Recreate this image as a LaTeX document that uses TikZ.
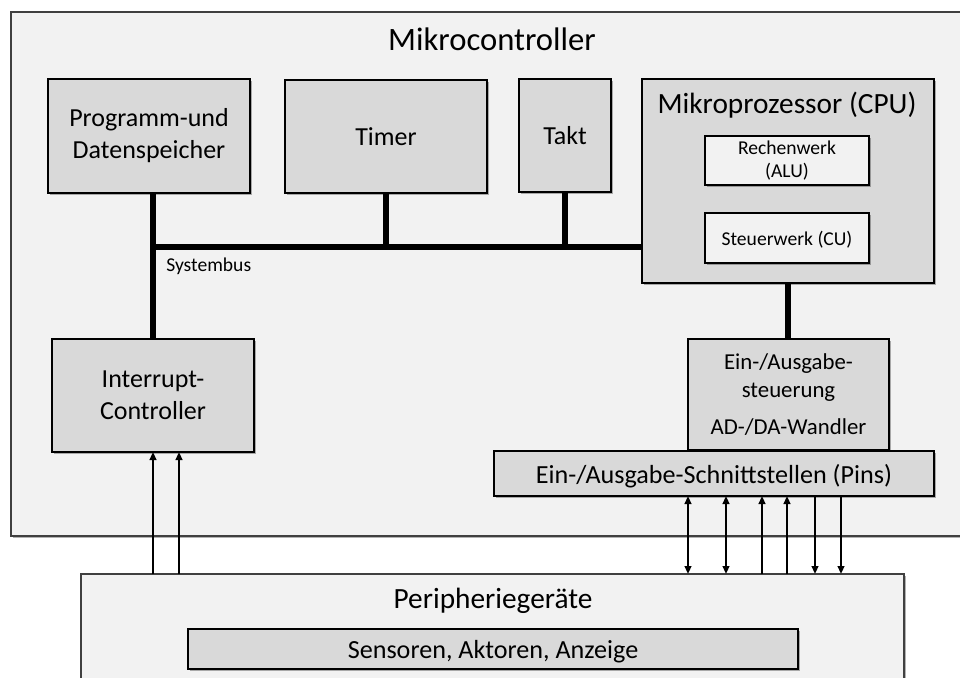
\documentclass[tikz,border=0pt]{standalone}
\usepackage{fontspec}
\setmainfont{Carlito}
\usetikzlibrary{arrows.meta,shadows}
\definecolor{boxgray}{HTML}{D9D9D9}
\definecolor{palegray}{HTML}{F2F2F2}
\begin{document}
\begin{tikzpicture}[x=0.75pt,y=-0.75pt,
  sz/.style 2 args={minimum width=#1*0.75pt, minimum height=#2*0.75pt},
  shade/.style={drop shadow={shadow xshift=1.5pt, shadow yshift=-1.5pt, opacity=0.3, fill=black}},
  blk/.style={draw=black, line width=2.2pt, fill=boxgray, inner sep=0pt, outer sep=0pt, align=center, shade},
  innerblk/.style={blk, fill=palegray},
  frame/.style={draw=black!75, line width=1pt, fill=palegray, inner sep=0pt, outer sep=0pt, shade},
  one/.style={text depth=0pt},
  fbox/.style={font=\fontsize{19.5}{24}\selectfont},
  ftitle/.style={font=\fontsize{24.5}{29}\selectfont},
  fcpu/.style={font=\fontsize{22}{26}\selectfont},
  fio/.style={font=\fontsize{17.1}{21}\selectfont},
  fsmall/.style={font=\fontsize{14.7}{17.5}\selectfont},
  bus/.style={line width=4.8pt},
  tip/.tip={Triangle[length=6pt,width=5pt]},
  arr/.style={line width=1.7pt, -tip},
  darr/.style={line width=1.7pt, tip-tip},
]
\useasboundingbox (0,0) rectangle (960,678);
\clip (0,0) rectangle (960,678);

% outer frames
\node[frame, sz={954}{524}] (mc) at (488,274) {};
\node[frame, sz={823}{146}] (peri) at (492.5,647) {};
\node[ftitle, anchor=base, inner sep=0pt] (mctitle) at (492,50) {Mikrocontroller};
\node[fcpu, anchor=base, inner sep=0pt] (perititle) at (493,608) {Peripherieger\"ate};

% blocks
\node[blk, fbox, sz={202}{114}] (prog) at (149,136) {Programm-und\\Datenspeicher};
\node[blk, fbox, one, sz={202}{113}] (timer) at (386,136.5) {Timer};
\node[blk, fbox, one, sz={92}{113}] (takt) at (565,135.5) {Takt};
\node[blk, sz={292}{204}] (cpu) at (788,181) {};
\node[fcpu, anchor=base, inner sep=0pt] (cputitle) at (787,113) {Mikroprozessor (CPU)};
\node[innerblk, fsmall, sz={164}{49}] (alu) at (787,160.5) {Rechenwerk\\(ALU)};
\node[innerblk, fsmall, one, sz={164}{50}] (cu) at (787,238) {Steuerwerk (CU)};
\node[blk, fbox, sz={202}{113}] (intr) at (153,395.5) {Interrupt-\\Controller};
\node[blk, fio, sz={201}{111}] (io) at (788.5,394.5) {Ein-/Ausgabe-\\steuerung\\[6.5pt]AD-/DA-Wandler};
\node[blk, fbox, one, font=\fontsize{19.6}{24}\selectfont, sz={440}{45}] (pins) at (714,473.5) {Ein-/Ausgabe-Schnittstellen (Pins)};
\node[blk, one, font=\fontsize{19.6}{24}\selectfont, sz={610}{40}] (sens) at (493,649) {Sensoren, Aktoren, Anzeige};

% system bus
\coordinate (bj) at (153,247);
\draw[bus] (prog.south -| intr.north) -- (intr.north);
\draw[bus] (bj) -- (bj -| cpu.west);
\draw[bus] (timer.south) -- (timer.south |- bj);
\draw[bus] (takt.south) -- (takt.south |- bj);
\draw[bus] (cpu.south) -- (cpu.south |- io.north);
\node[fsmall, anchor=base west, inner sep=0pt] (sysbus) at (166,271) {Systembus};

% interrupt lines
\coordinate (i1) at (153,452);
\coordinate (i2) at (179,452);
\draw[arr] (i1 |- peri.north) -- (i1 |- intr.south);
\draw[arr] (i2 |- peri.north) -- (i2 |- intr.south);

% pin lines
\coordinate (p1) at (688,496);
\coordinate (p2) at (726,496);
\coordinate (p3) at (762,496);
\coordinate (p4) at (787,496);
\coordinate (p5) at (815,496);
\coordinate (p6) at (841,496);
\draw[darr] (p1 |- pins.south) -- (p1 |- peri.north);
\draw[darr] (p2 |- pins.south) -- (p2 |- peri.north);
\draw[arr] (p3 |- peri.north) -- (p3 |- pins.south);
\draw[arr] (p4 |- peri.north) -- (p4 |- pins.south);
\draw[arr] (p5 |- pins.south) -- (p5 |- peri.north);
\draw[arr] (p6 |- pins.south) -- (p6 |- peri.north);
\end{tikzpicture}
\end{document}
